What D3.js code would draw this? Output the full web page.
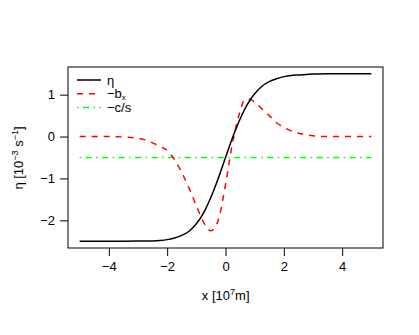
<!DOCTYPE html>
<html><head><meta charset="utf-8">
<script src="https://cdn.jsdelivr.net/npm/d3@7"></script>
<style>body{margin:0;background:#fff}svg{display:block}text{font-family:"Liberation Sans",Arial,sans-serif}</style>
</head><body><div id="chart"></div>
<script>
// eta curve
const etaX = [-5,-4.5,-4,-3.5,-3,-2.5,-2.25,-2,-1.75,-1.5,-1.25,-1,-0.75,-0.5,-0.25,0,0.25,0.5,0.75,1,1.25,1.5,1.75,2,2.25,2.5,3,3.5,4,4.5,5];
const etaY = [-2.5,-2.5,-2.5,-2.498,-2.495,-2.49,-2.48,-2.46,-2.42,-2.36,-2.26,-2.08,-1.82,-1.45,-1.0,-0.5,-0.01,0.42,0.77,1.02,1.2,1.31,1.38,1.43,1.46,1.47,1.49,1.497,1.499,1.5,1.5];
// -b_x curve
const bxX = [-5,-4.5,-4,-3.5,-3,-2.75,-2.5,-2.25,-2,-1.75,-1.5,-1.25,-1,-0.75,-0.5,-0.25,0,0.25,0.5,0.625,0.75,0.875,1,1.25,1.5,1.75,2,2.5,3,3.5,4,4.5,5];
const bxY = [0,0,0,-0.01,-0.04,-0.08,-0.15,-0.24,-0.33,-0.55,-0.86,-1.23,-1.65,-2.05,-2.25,-2.0,-1.15,-0.12,0.6,0.85,0.9,0.88,0.82,0.66,0.5,0.33,0.22,0.08,0.02,0,0,0,0];
// -c/s
const csX = [-5,5];
const csY = [-0.5,-0.5];
const xTicks = [-4,-2,0,2,4];
const yTicks = [-2,-1,0,1];
const legendLabels = ["η","−b","−c/s"];

const W=419,H=335;
const svg=d3.select("#chart").append("svg").attr("width",W).attr("height",H);
const L=68,R=383,T=67,B=248;
const x=d3.scaleLinear().domain([-5.4,5.4]).range([L,R]);
const y=d3.scaleLinear().domain([-2.66,1.66]).range([B,T]);
const fmt=d=>d<0?"\u2212"+Math.abs(d):String(d);
const FS=13;

// axes
const xa=svg.append("g").attr("transform",`translate(0,${B})`)
  .call(d3.axisBottom(x).tickValues(xTicks).tickFormat(fmt).tickSize(8).tickPadding(6).tickSizeOuter(0));
xa.select(".domain").remove();
const ya=svg.append("g").attr("transform",`translate(${L},0)`)
  .call(d3.axisLeft(y).tickValues(yTicks).tickFormat(fmt).tickSize(8).tickPadding(5).tickSizeOuter(0));
ya.select(".domain").remove();
svg.selectAll(".tick text").attr("font-size",FS).attr("fill","#000").attr("font-family","Liberation Sans, Arial, sans-serif");
svg.selectAll(".tick line").attr("stroke","#000");

// box
svg.append("rect").attr("x",L).attr("y",T).attr("width",R-L).attr("height",B-T)
  .attr("fill","none").attr("stroke","#000").attr("stroke-width",1);

const line=d3.line().x(d=>x(d[0])).y(d=>y(d[1])).curve(d3.curveMonotoneX);
const lin=d3.line().x(d=>x(d[0])).y(d=>y(d[1]));
svg.append("path").attr("d",lin(csX.map((v,i)=>[v,csY[i]]))).attr("fill","none")
  .attr("stroke","#00ff00").attr("stroke-width",1.5).attr("stroke-dasharray","1.5,4.5,6,4.5");
svg.append("path").attr("d",line(bxX.map((v,i)=>[v,bxY[i]]))).attr("fill","none")
  .attr("stroke","#ff0000").attr("stroke-width",1.5).attr("stroke-dasharray","6,6");
svg.append("path").attr("d",line(etaX.map((v,i)=>[v,etaY[i]]))).attr("fill","none")
  .attr("stroke","#000").attr("stroke-width",1.5);

// legend
const lg=svg.append("g");
const rows=[{c:"#000",d:null},{c:"#ff0000",d:"6,6"},{c:"#00ff00",d:"1.5,4.5,6,4.5"}];
rows.forEach((r,i)=>{
  const yy=80+i*13.7;
  lg.append("line").attr("x1",77).attr("x2",101).attr("y1",yy).attr("y2",yy)
    .attr("stroke",r.c).attr("stroke-width",1.5).attr("stroke-dasharray",r.d);
  const t=lg.append("text").attr("x",107).attr("y",yy+4.5).attr("font-size",FS);
  t.append("tspan").text(legendLabels[i]);
  if(i===1) t.append("tspan").attr("font-size",8).attr("dy",1.5).text("x");
});

// axis titles
const xt=svg.append("text").attr("x",225.7).attr("y",300).attr("text-anchor","middle").attr("font-size",FS);
xt.append("tspan").text("x [10");
xt.append("tspan").attr("font-size",9).attr("dy",-5).text("7");
xt.append("tspan").attr("dy",5).text("m]");
const yt=svg.append("text").attr("transform","translate(23,158) rotate(-90)").attr("text-anchor","middle").attr("font-size",FS);
yt.append("tspan").text("η [10");
yt.append("tspan").attr("font-size",9).attr("dy",-5).text("−3");
yt.append("tspan").attr("dy",5).text(" s");
yt.append("tspan").attr("font-size",9).attr("dy",-5).text("−1");
yt.append("tspan").attr("dy",5).text("]");
</script></body></html>
